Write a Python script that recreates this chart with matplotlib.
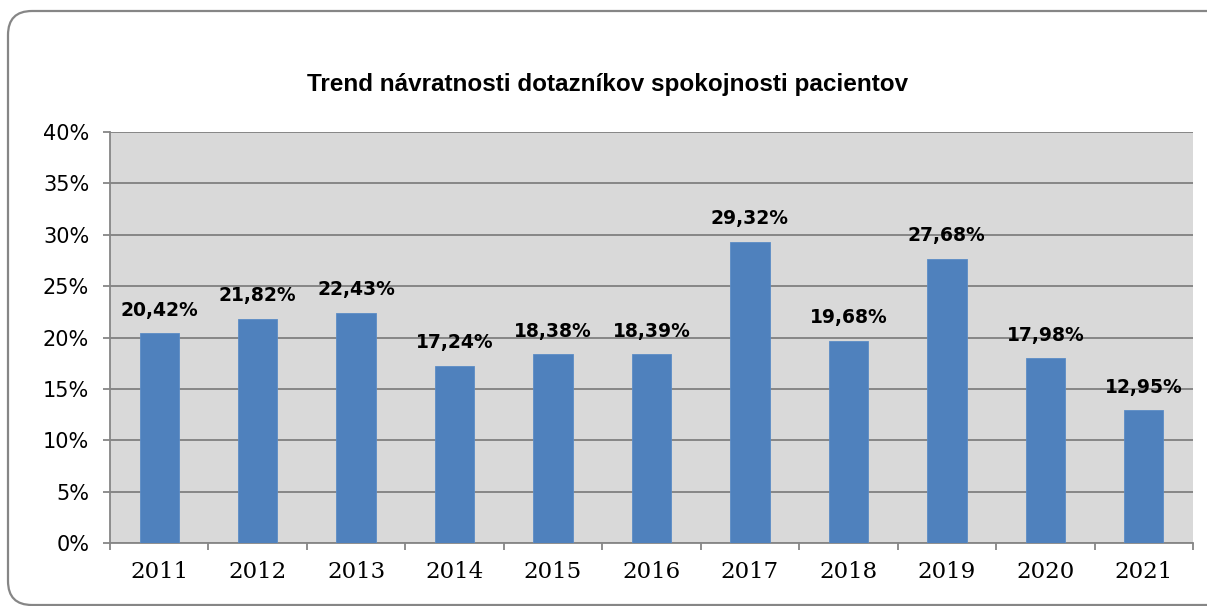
import matplotlib
matplotlib.use("Agg")
import matplotlib.pyplot as plt
from matplotlib.patches import FancyBboxPatch
from matplotlib.ticker import FixedLocator, FuncFormatter

years = ["2011", "2012", "2013", "2014", "2015", "2016", "2017", "2018", "2019", "2020", "2021"]
values = [20.42, 21.82, 22.43, 17.24, 18.38, 18.39, 29.32, 19.68, 27.68, 17.98, 12.95]
yticks = [0, 5, 10, 15, 20, 25, 30, 35, 40]
title = "Trend návratnosti dotazníkov spokojnosti pacientov"

W, H = 1207, 606
fig = plt.figure(figsize=(W / 100, H / 100), dpi=100)
fig.patch.set_facecolor("white")

# rounded frame in pixel coordinates (identity transform)
frame = FancyBboxPatch((8, 1), 1226, 594,
                       boxstyle="round,pad=0,rounding_size=24",
                       transform=None, facecolor="none",
                       edgecolor="#868686", linewidth=1.6, clip_on=False, zorder=0)
fig.add_artist(frame)

left, right = 110 / W, 1193 / W
bottom, top = (H - 543) / H, (H - 132) / H
ax = fig.add_axes([left, bottom, right - left, top - bottom])
ax.set_facecolor("#d9d9d9")

x = list(range(len(years)))
ax.bar(x, values, width=0.4, color="#4f81bd", edgecolor="#5b8cc6", linewidth=0.6, zorder=3)

ax.set_xlim(-0.5, len(years) - 0.5)
ax.set_ylim(0, 40)

ax.set_yticks(yticks)
ax.yaxis.set_major_formatter(FuncFormatter(lambda v, p: f"{int(v)}%"))
ax.grid(axis="y", color="#808080", linewidth=1.3, zorder=1)
ax.set_axisbelow(True)

ax.set_xticks(x)
ax.set_xticklabels(years)
ax.xaxis.set_minor_locator(FixedLocator([i - 0.5 for i in range(len(years) + 1)]))
ax.tick_params(axis="x", which="major", length=0, pad=13)
ax.tick_params(axis="x", which="minor", length=5, width=1.3, color="#868686", direction="out")
ax.tick_params(axis="y", length=5, width=1.3, color="#868686", pad=10)

for lab in ax.get_xticklabels():
    lab.set_fontfamily("DejaVu Serif")
    lab.set_fontsize(16.5)
for lab in ax.get_yticklabels():
    lab.set_fontfamily("DejaVu Sans")
    lab.set_fontsize(15)

for s in ["top", "right"]:
    ax.spines[s].set_visible(False)
for s in ["left", "bottom"]:
    ax.spines[s].set_color("#868686")
    ax.spines[s].set_linewidth(1.3)

for xi, v in zip(x, values):
    ax.annotate(f"{v:.2f}%".replace(".", ","), (xi, v), xytext=(0, 16.5),
                textcoords="offset points", ha="center", va="center",
                fontsize=13.5, fontweight="bold", family="DejaVu Sans",
                color="black", zorder=5)

fig.text(608 / W, 1 - 84 / H, title, ha="center", va="center",
         fontsize=17.5, fontweight="bold",
         family=["Liberation Sans Narrow", "Liberation Sans"], color="black")

fig.savefig("out.png", dpi=100)
